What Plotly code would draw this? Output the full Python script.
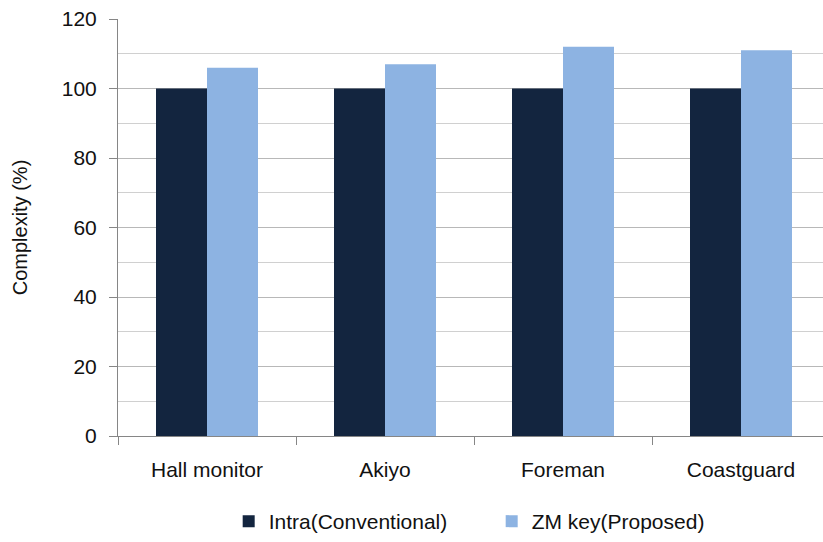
import plotly.graph_objects as go

categories = ["Hall monitor", "Akiyo", "Foreman", "Coastguard"]
intra = [100, 100, 100, 100]
zm_key = [106, 107, 112, 111]
y_ticks = [0, 20, 40, 60, 80, 100, 120]

FONT = "Liberation Sans"
fig = go.Figure()
fig.add_trace(go.Bar(x=categories, y=intra, name="Intra(Conventional)",
                     marker=dict(color="#13253F", line=dict(width=0))))
fig.add_trace(go.Bar(x=categories, y=zm_key, name="ZM key(Proposed)",
                     marker=dict(color="#8DB3E2", line=dict(width=0))))

fig.update_layout(
    width=823, height=542,
    margin=dict(l=118, r=0, t=19, b=104),
    paper_bgcolor="white", plot_bgcolor="white",
    barmode="group", bargap=0.427, bargroupgap=0,
    font=dict(family=FONT, size=21, color="#111111"),
    legend=dict(orientation="h", x=0.157, xanchor="left", y=-0.205, yanchor="middle",
                font=dict(size=21), entrywidth=218, entrywidthmode="pixels",
                itemwidth=30),
    showlegend=True,
)
fig.update_xaxes(
    range=[-0.5, -0.5 + 705 / 178],
    showline=True, linecolor="#868686", linewidth=1,
    ticks="outside", tickson="boundaries", ticklen=8, tickcolor="#868686",
    showgrid=False, tickfont=dict(size=21), fixedrange=True,
    ticklabelstandoff=15,
)
fig.update_yaxes(
    range=[0, 120], tickvals=y_ticks,
    showline=True, linecolor="#868686", linewidth=1,
    ticks="outside", ticklen=8, tickcolor="#868686",
    showgrid=True, gridcolor="#B8B8B8", gridwidth=1,
    minor=dict(dtick=10, showgrid=True, gridcolor="#D0D0D0", gridwidth=1),
    title=dict(text="Complexity (%)", font=dict(size=20), standoff=28),
    tickfont=dict(size=21), zeroline=False, ticklabelstandoff=8,
)
fig.write_html("out.html")
